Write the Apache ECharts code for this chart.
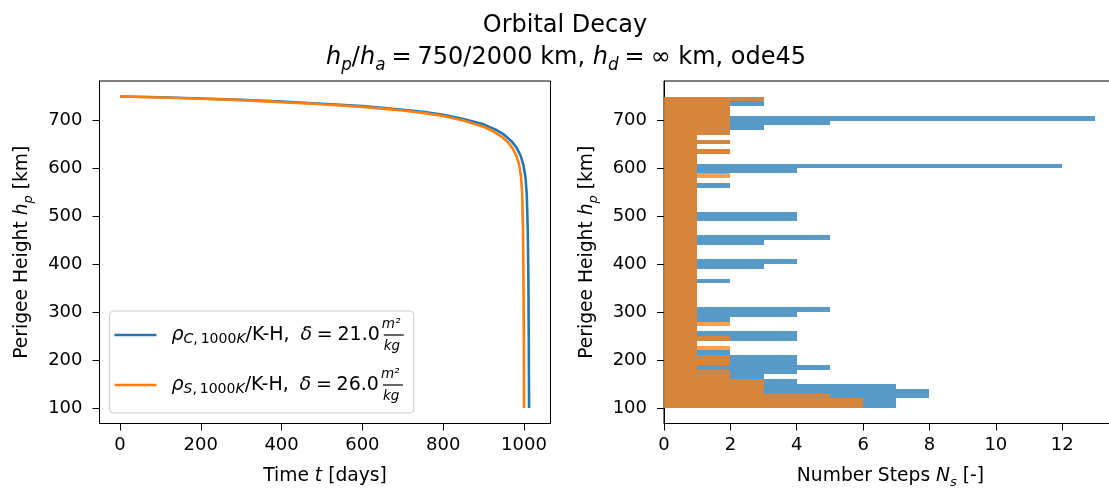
<!DOCTYPE html>
<html>
<head>
<meta charset="utf-8">
<script src="https://cdn.jsdelivr.net/npm/echarts@6/dist/echarts.min.js"></script>
<style>
html,body{margin:0;padding:0;background:#fff;}
#chart{width:1109px;height:488px;}
</style>
</head>
<body>
<div id="chart"></div>
<script>
// ---------- data ----------
const blueT = [0, 100, 200, 300, 400, 500, 600, 700, 750, 800, 850, 900, 930, 950, 970, 982, 992, 999, 1004, 1007, 1009.5, 1011, 1012, 1012.7];
const blueH = [750, 748.5, 746, 743, 739.5, 735, 730, 722.5, 718, 712, 703, 692, 681, 671, 656, 643, 626, 606, 580, 545, 470, 370, 240, 100];
const orangeT = [0, 100, 200, 300, 400, 500, 600, 700, 750, 800, 850, 900, 925, 945, 960, 972, 981, 988, 992.5, 995.5, 997.5, 998.8, 999.6, 1000.2];
const orangeH = [750, 748, 745.5, 742.5, 738.5, 734, 728.5, 721, 716, 709.5, 700, 687, 677, 666, 655, 642, 627, 608, 584, 550, 480, 380, 250, 100];

const binEdges = [100, 110, 120, 130, 140, 150, 160, 170, 180, 190, 200, 210, 220, 230, 240, 250, 260, 270, 280, 290, 300,
  310, 320, 330, 340, 350, 360, 370, 380, 390, 400, 410, 420, 430, 440, 450, 460, 470, 480, 490, 500,
  510, 520, 530, 540, 550, 560, 570, 580, 590, 600, 610, 620, 630, 640, 650, 660, 670, 680, 690, 700,
  710, 720, 730, 740, 750];
const blueCounts = [7, 7, 8, 8, 7, 4, 3, 4, 5, 4, 4, 2, 1, 1, 4, 4, 1, 1, 2, 4, 5,
  1, 1, 1, 1, 1, 2, 1, 1, 3, 4, 1, 1, 1, 3, 5, 1, 1, 1, 4, 4,
  1, 1, 1, 1, 1, 2, 1, 1, 4, 12, 1, 1, 2, 1, 2, 1, 2, 3, 5, 13,
  2, 2, 3, 3];
const orangeCounts = [6, 6, 5, 3, 3, 3, 2, 2, 1, 2, 2, 1, 2, 1, 2, 1, 1, 2, 1, 1, 1,
  1, 1, 1, 1, 1, 1, 1, 1, 1, 1, 1, 1, 1, 1, 1, 1, 1, 1, 1, 1,
  1, 1, 1, 1, 1, 1, 1, 2, 1, 1, 1, 1, 2, 1, 2, 1, 2, 2, 2, 2,
  2, 2, 2, 3];

const timeTicks = [0, 200, 400, 600, 800, 1000];
const heightTicks = [100, 200, 300, 400, 500, 600, 700];
const stepTicks = [0, 2, 4, 6, 8, 10, 12];

const seriesNames = ['rhoC', 'rhoS'];
const legendLabels = {
  rhoC: '{sp|}{rho|ρ}{lsub|C}{lsubn|,\u2009}{lsubn|1000}{lsub|K}{n|/K-H,\u2005 }{i|δ}{n|\u2005=\u200521.0}{num|m²}{den|kg}{bar| }',
  rhoS: '{sp|}{rho|ρ}{lsub|S}{lsubn|,\u2009}{lsubn|1000}{lsub|K}{n|/K-H,\u2005 }{i|δ}{n|\u2005=\u200526.0}{num|m²}{den|kg}{bar| }'
};

// ---------- helpers ----------
const FONT = 'DejaVu Sans';
const BLUE = '#1f77b4', ORANGE = '#ff7f0e';

function rich(F, L, drop) {
  const subF = F * 0.7;
  const subLH = L - (drop || 0.616) * F;
  return {
    n: {fontFamily: FONT, fontSize: F, color: '#000', lineHeight: L},
    i: {fontFamily: FONT, fontStyle: 'italic', fontSize: F, color: '#000', lineHeight: L},
    sub: {fontFamily: FONT, fontStyle: 'italic', fontSize: subF, color: '#000', lineHeight: subLH, verticalAlign: 'bottom'},
    subn: {fontFamily: FONT, fontSize: subF, color: '#000', lineHeight: subLH, verticalAlign: 'bottom'}
  };
}

const lineData = (ts, hs) => ts.map((t, i) => [t, hs[i]]);
const histData = (counts) => counts.map((c, i) => [binEdges[i], binEdges[i + 1], c]);

function histRender(color) {
  return function (params, api) {
    const lo = api.value(0), hi = api.value(1), n = api.value(2);
    if (!n) return null;
    const p0 = api.coord([0, hi]);
    const p1 = api.coord([n, lo]);
    const x0 = Math.round(p0[0]), y0 = Math.round(p0[1]);
    const x1 = Math.round(p1[0]), y1 = Math.round(p1[1]);
    return {
      type: 'rect',
      shape: {x: x0, y: y0, width: x1 - x0, height: y1 - y0},
      style: {fill: color, opacity: 0.75}
    };
  };
}

const tickLabel = {fontFamily: FONT, fontSize: 18, color: '#000', formatter: (v) => String(v)};
const NF = 18.7;

function xAxisCfg(grid, min, max, ticks, name) {
  return {
    type: 'value', gridIndex: grid, min: min, max: max,
    name: name, nameLocation: 'middle', nameGap: 40,
    nameTextStyle: {rich: rich(NF, 26)},
    axisLine: {show: true, onZero: false, lineStyle: {color: '#000', width: 1}},
    axisTick: {show: true, length: 7, lineStyle: {color: '#000', width: 1}, customValues: ticks},
    axisLabel: Object.assign({customValues: ticks, margin: 12, lineHeight: 20}, tickLabel),
    splitLine: {show: false}
  };
}
function yAxisCfg(grid, name) {
  return {
    type: 'value', gridIndex: grid, min: 67.5, max: 782.5,
    name: name, nameLocation: 'middle', nameGap: 64, nameRotate: 90,
    nameTextStyle: {rich: rich(NF, 26)},
    axisLine: {show: true, onZero: false, lineStyle: {color: '#000', width: 1}},
    axisTick: {show: true, length: 7, lineStyle: {color: '#000', width: 1}, customValues: heightTicks},
    axisLabel: Object.assign({customValues: heightTicks, margin: 17}, tickLabel),
    splitLine: {show: false}
  };
}

const LF = 19;
const LSUB = LF * 0.74;
const legendRich = Object.assign(rich(LF, 36), {
  sp: {width: 10, fontSize: LF, lineHeight: 36},
  rho: {fontFamily: FONT, fontStyle: 'italic', fontSize: LF, color: '#000', lineHeight: 36},
  lsub: {fontFamily: FONT, fontStyle: 'italic', fontSize: LSUB, color: '#000', lineHeight: 36, padding: [8, 0, 0, 0]},
  lsubn: {fontFamily: FONT, fontSize: LSUB, color: '#000', lineHeight: 36, padding: [8, 0, 0, 0]},
  num: {fontFamily: FONT, fontStyle: 'italic', fontSize: 13.5, color: '#000', lineHeight: 15, verticalAlign: 'top', width: 0, padding: [0, 0, 0, 2]},
  den: {fontFamily: FONT, fontStyle: 'italic', fontSize: 13.5, color: '#000', lineHeight: 15, verticalAlign: 'bottom', width: 0, padding: [0, 0, 0, 2]},
  bar: {fontSize: 2, lineHeight: 1.2, height: 1.2, width: 20, backgroundColor: '#000'}
});

const chart = echarts.init(document.getElementById('chart'), null, {renderer: 'canvas'});
chart.setOption({
  backgroundColor: '#fff',
  animation: false,
  title: [
    {text: 'Orbital Decay', left: 565, textAlign: 'center', top: 14, padding: 0,
     textStyle: {fontFamily: FONT, fontSize: 24, fontWeight: 'normal', color: '#000'}},
    {text: '{i|h}{sub|p}{n|/}{i|h}{sub|a}{n|\u2005=\u2005750/2000 km, }{i|h}{sub|d}{n|\u2005=\u2005∞ km, ode45}',
     left: 566, textAlign: 'center', top: 42, padding: 0,
     textStyle: {fontWeight: 'normal', rich: rich(24, 32)}}
  ],
  grid: [
    {left: 99.5, top: 81, width: 451, height: 342.5, show: true, borderColor: '#000', borderWidth: 1, backgroundColor: 'transparent', containLabel: false, outerBoundsMode: 'none'},
    {left: 664, top: 81, width: 453, height: 342.5, show: true, borderColor: '#000', borderWidth: 1, backgroundColor: 'transparent', containLabel: false, outerBoundsMode: 'none'}
  ],
  xAxis: [
    xAxisCfg(0, -50.75, 1065.75, timeTicks, '{n|Time }{i|t}{n| [days]}'),
    xAxisCfg(1, 0, 13.65, stepTicks, '{n|Number Steps }{i|N}{sub|s}{n| [-]}')
  ],
  yAxis: [
    yAxisCfg(0, '{n|Perigee Height }{i|h}{sub|p}{n| [km]}'),
    yAxisCfg(1, '{n|Perigee Height }{i|h}{sub|p}{n| [km]}')
  ],
  legend: {
    data: seriesNames, orient: 'vertical', left: 109.5, top: 311,
    icon: 'rect', itemWidth: 42, itemHeight: 2.6, itemGap: 14,
    padding: [6, 10, 10, 5],
    backgroundColor: 'rgba(255,255,255,0.8)', borderColor: '#cccccc', borderWidth: 1, borderRadius: 4,
    formatter: (name) => legendLabels[name],
    textStyle: {fontFamily: FONT, fontSize: LF, color: '#000', rich: legendRich},
    selectedMode: false
  },
  series: [
    {name: seriesNames[0], type: 'line', xAxisIndex: 0, yAxisIndex: 0, data: lineData(blueT, blueH),
     symbol: 'none', smooth: false, color: BLUE, itemStyle: {color: BLUE}, lineStyle: {color: BLUE, width: 2.6}, silent: true, z: 3},
    {name: seriesNames[1], type: 'line', xAxisIndex: 0, yAxisIndex: 0, data: lineData(orangeT, orangeH),
     symbol: 'none', smooth: false, color: ORANGE, itemStyle: {color: ORANGE}, lineStyle: {color: ORANGE, width: 2.6}, silent: true, z: 4},
    {type: 'custom', xAxisIndex: 1, yAxisIndex: 1, data: histData(blueCounts), renderItem: histRender(BLUE),
     encode: {x: 2, y: [0, 1]}, silent: true, z: 2},
    {type: 'custom', xAxisIndex: 1, yAxisIndex: 1, data: histData(orangeCounts), renderItem: histRender(ORANGE),
     encode: {x: 2, y: [0, 1]}, silent: true, z: 3}
  ]
});
</script>
</body>
</html>
